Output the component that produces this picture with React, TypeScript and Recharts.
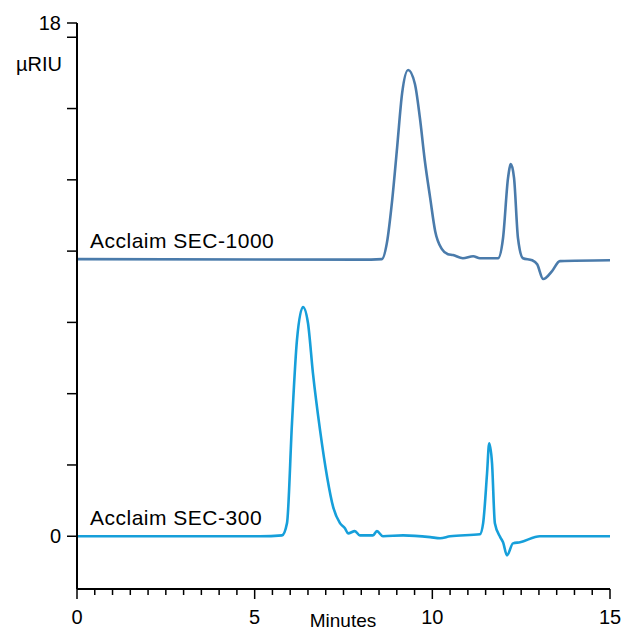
import * as React from 'react';
import { Customized, Line, LineChart, XAxis, YAxis } from 'recharts';

// retention time (minutes) / detector response (µRIU)
const sec1000Time = [0, 7.97, 8.58, 8.72, 8.87, 9.01, 9.15, 9.32, 9.51, 9.65, 9.79, 9.94, 10.08, 10.27, 10.44, 10.58, 10.86, 11.15, 11.34, 11.85, 11.99, 12.13, 12.21, 12.3, 12.41, 12.55, 12.81, 12.95, 13.12, 13.37, 13.59, 15];
const sec1000Value = [9.72, 9.7, 9.72, 10.28, 11.79, 13.65, 15.54, 16.35, 15.86, 14.67, 13.16, 11.86, 10.7, 10.07, 9.89, 9.86, 9.75, 9.82, 9.75, 9.75, 10.46, 12.56, 13.05, 12.56, 10.46, 9.75, 9.68, 9.54, 9.02, 9.3, 9.65, 9.68];

const sec300Time = [0, 5.15, 5.77, 5.91, 6.05, 6.19, 6.36, 6.5, 6.64, 6.84, 7.04, 7.21, 7.4, 7.54, 7.63, 7.82, 7.96, 8.33, 8.44, 8.61, 9.18, 9.94, 10.22, 10.5, 11.34, 11.43, 11.54, 11.6, 11.68, 11.76, 11.91, 11.99, 12.1, 12.27, 12.47, 13.03, 15];
const sec300Value = [0, 0, 0.03, 0.46, 3.96, 6.88, 8.04, 7.48, 5.72, 3.72, 2.07, 1.02, 0.46, 0.28, 0.1, 0.18, 0.03, 0.03, 0.18, 0, 0.03, -0.03, -0.07, 0, 0.07, 0.46, 2.21, 3.26, 2.56, 0.46, -0.03, -0.21, -0.67, -0.25, -0.21, 0, 0];

const xTicks = [0, 0.5, 1, 1.5, 2, 2.5, 3, 3.5, 4, 4.5, 5, 5.5, 6, 6.5, 7, 7.5, 8, 8.5, 9, 9.5, 10, 10.5, 11, 11.5, 12, 12.5, 13, 13.5, 14, 14.5, 15];
const xTickLabels = [0, 5, 10, 15];
const yTicks = [0, 2.5, 5, 7.5, 10, 12.5, 15, 17.5, 18];
const yTickLabels = [0, 18];

const sec1000 = sec1000Time.map((t, i) => ({ t, v: sec1000Value[i] }));
const sec300 = sec300Time.map((t, i) => ({ t, v: sec300Value[i] }));

const FONT = '"Liberation Sans", Arial, sans-serif';

const XTick = (props: any) => {
    const { x, y, payload } = props;
    const major = xTickLabels.includes(payload.value);
    return (
        <g>
            <line x1={x} y1={y} x2={x} y2={y + (major ? 10 : 6)} stroke="#000" strokeWidth={1.5}/>
            {major && (
                <text x={x} y={y + 35} textAnchor="middle" fontSize={20} fontFamily={FONT} fill="#000">
                    {payload.value}
                </text>
            )}
        </g>
    );
};

const YTick = (props: any) => {
    const { x, y, payload } = props;
    return (
        <g>
            <line x1={x - 10} y1={y} x2={x} y2={y} stroke="#000" strokeWidth={1.5}/>
            {yTickLabels.includes(payload.value) && (
                <text x={x - 16} y={y + 7} textAnchor="end" fontSize={20} fontFamily={FONT} fill="#000">
                    {payload.value}
                </text>
            )}
        </g>
    );
};

const Annotations = () => (
    <g fontFamily={FONT} fill="#000">
        <text x={62} y={71} textAnchor="end" fontSize={20}>µRIU</text>
        <text x={90} y={248} fontSize={21} letterSpacing={0.5}>Acclaim SEC-1000</text>
        <text x={90} y={525} fontSize={21} letterSpacing={0.5}>Acclaim SEC-300</text>
        <text x={343} y={627} textAnchor="middle" fontSize={19}>Minutes</text>
    </g>
);

export default function App() {
    return (
        <div style={{ position: 'absolute', left: 0, top: 0, width: 622, height: 632 }}>
            <LineChart width={622} height={632} margin={{ top: 23, right: 12, left: 0, bottom: 0 }}>
                <XAxis
                    type="number"
                    dataKey="t"
                    domain={[0, 15]}
                    ticks={xTicks}
                    interval={0}
                    height={43}
                    tickSize={0}
                    tickMargin={0}
                    tick={<XTick/>}
                    axisLine={{ stroke: '#000', strokeWidth: 2 }}
                    allowDataOverflow
                />
                <YAxis
                    type="number"
                    domain={[-1.85, 18]}
                    ticks={yTicks}
                    interval={0}
                    width={77}
                    tickSize={0}
                    tickMargin={0}
                    tick={<YTick/>}
                    axisLine={{ stroke: '#000', strokeWidth: 2 }}
                    allowDataOverflow
                />
                <Line data={sec1000} dataKey="v" type="monotone" stroke="#4a7bab" strokeWidth={2.6}
                      dot={false} isAnimationActive={false}/>
                <Line data={sec300} dataKey="v" type="monotone" stroke="#169fda" strokeWidth={2.6}
                      dot={false} isAnimationActive={false}/>
                <Customized component={Annotations}/>
            </LineChart>
        </div>
    );
}
